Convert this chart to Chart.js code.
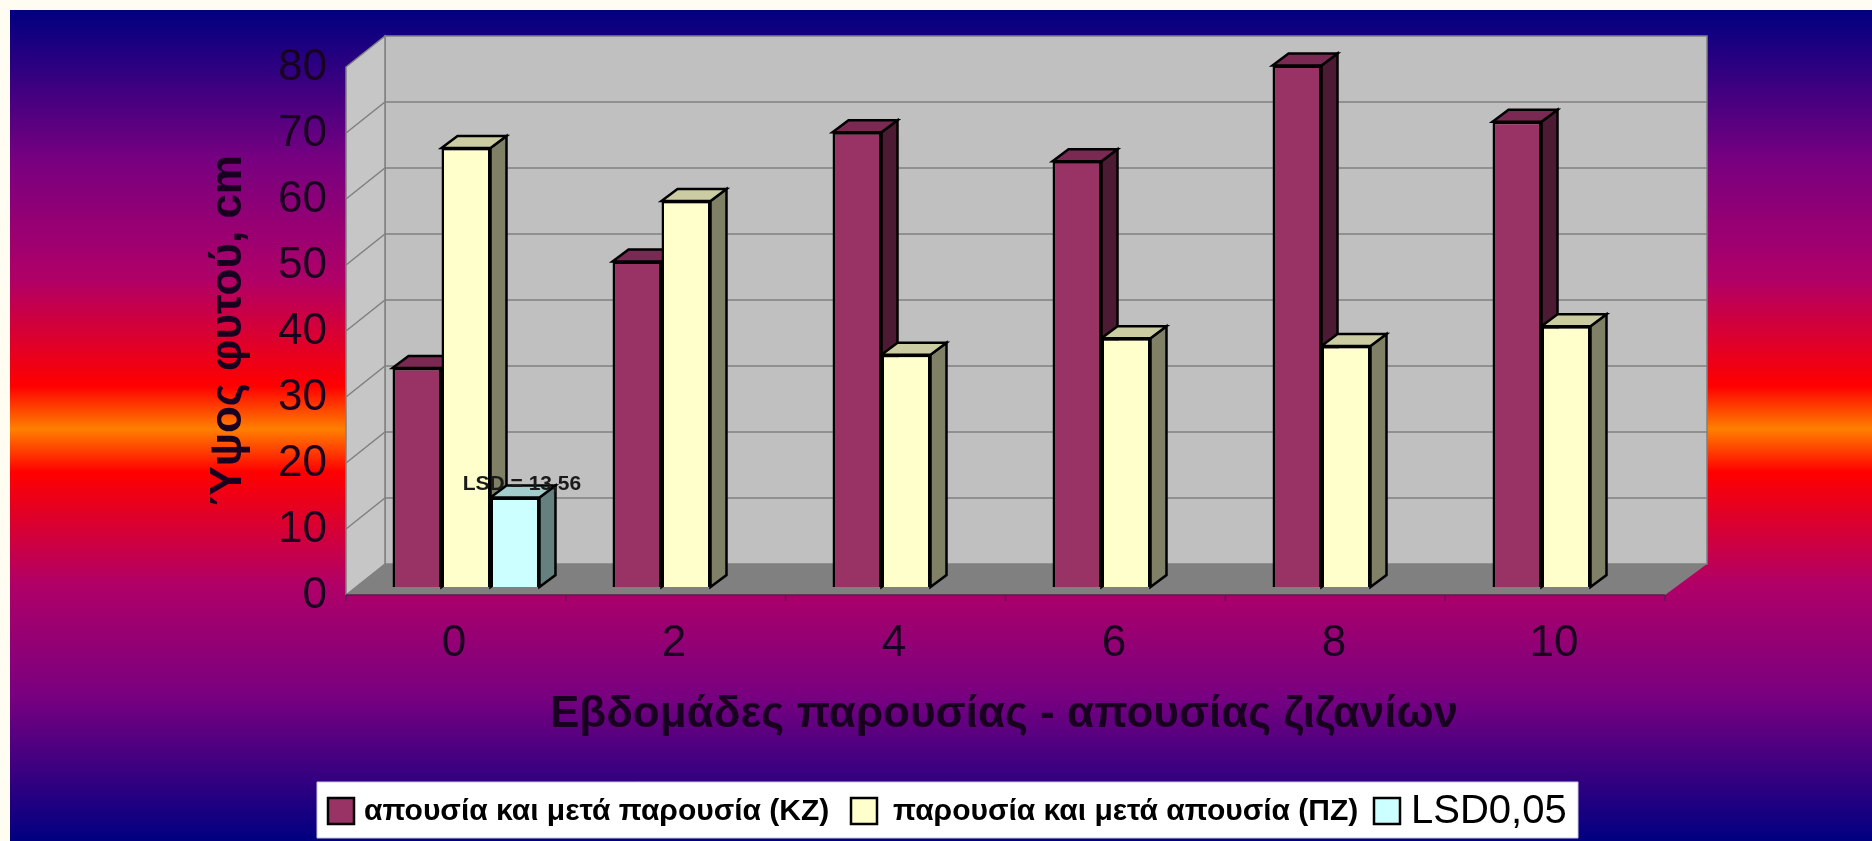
<!DOCTYPE html>
<html><head><meta charset="utf-8">
<style>html,body{margin:0;padding:0;background:#fffdf2}canvas{display:block}</style>
<script src="https://cdn.jsdelivr.net/npm/chart.js@4/dist/chart.umd.min.js"></script>
</head><body>
<canvas id="c" width="1872" height="841" style="width:1872px;height:841px"></canvas>
<script>
const categories = ['0','2','4','6','8','10'];
const kzValues = [33.2, 49.3, 68.9, 64.5, 79, 70.5];
const pzValues = [66.5, 58.5, 35.2, 37.7, 36.5, 39.5];
const lsdValues = [13.56, null, null, null, null, null];
const yTicks = [0,10,20,30,40,50,60,70,80];
const seriesNames = ['απουσία και μετά παρουσία (ΚΖ)','παρουσία και μετά απουσία (ΠΖ)','LSD0,05'];
const yTitle = 'Ύψος φυτού, cm';
const xTitle = 'Εβδομάδες παρουσίας - απουσίας ζιζανίων';
const lsdLabel = 'LSD = 13,56';
const fronts = ['#993366','#ffffcc','#ccffff'];
const tops = ['#7a2952','#cccca3','#a3cccc'];
const sides = ['#4d1a33','#808066','#668080'];
const FONT = '"Liberation Sans", Arial, sans-serif';
const INK = '#1a0020';
const DX = 16, DY = 12;

function poly(ctx, pts, fill, stroke, lw){
  ctx.beginPath();
  pts.forEach((p,i)=> i?ctx.lineTo(p[0],p[1]):ctx.moveTo(p[0],p[1]));
  ctx.closePath();
  if(fill){ctx.fillStyle=fill;ctx.fill();}
  if(stroke){ctx.strokeStyle=stroke;ctx.lineWidth=lw||1;ctx.stroke();}
}

const scene = {
  id:'scene',
  beforeDraw(chart){
    const ctx=chart.ctx, W=chart.width, H=chart.height;
    ctx.save();
    ctx.fillStyle='#fffdf2';ctx.fillRect(0,0,W,H);
    const g=ctx.createLinearGradient(0,10,0,841);
    const stop=y=>(y-10)/831;
    g.addColorStop(0,'#000080');
    g.addColorStop(stop(161),'#780080');
    g.addColorStop(stop(279),'#b00068');
    g.addColorStop(stop(386),'#ff0000');
    g.addColorStop(stop(429),'#ff8000');
    g.addColorStop(stop(472),'#ff0000');
    g.addColorStop(stop(585),'#b00068');
    g.addColorStop(stop(697),'#780080');
    g.addColorStop(1,'#000080');
    ctx.fillStyle=g;ctx.fillRect(10,10,W-10,H-10);
    ctx.restore();
  },
  beforeDatasetsDraw(chart){
    const ctx=chart.ctx, a=chart.chartArea, y=chart.scales.y;
    const xF0=a.left-10, xF1=a.right-11, xB0=a.left+29, xB1=a.right+31;
    const yF=v=>y.getPixelForValue(v)+8, yB=v=>y.getPixelForValue(v)-23;
    ctx.save();
    poly(ctx,[[xB0,yB(80)],[xB1,yB(80)],[xB1,yB(0)],[xB0,yB(0)]],'#c0c0c0','#808080',1.5);
    poly(ctx,[[xF0,yF(80)],[xB0,yB(80)],[xB0,yB(0)],[xF0,yF(0)]],'#c6c6c6','#808080',1.5);
    poly(ctx,[[xF0,yF(0)],[xF1,yF(0)],[xB1,yB(0)],[xB0,yB(0)]],'#808080');
    ctx.strokeStyle='#808080';ctx.lineWidth=1.5;
    yTicks.slice(1,-1).forEach(v=>{
      ctx.beginPath();ctx.moveTo(xF0,yF(v));ctx.lineTo(xB0,yB(v));ctx.lineTo(xB1,yB(v));ctx.stroke();
    });
    ctx.strokeStyle='#5a1a50';ctx.lineWidth=1.5;
    ctx.beginPath();ctx.moveTo(xF0,yF(0));ctx.lineTo(xF1,yF(0));ctx.stroke();
    const step=(xF1-xF0)/categories.length;
    for(let i=0;i<=categories.length;i++){
      ctx.beginPath();ctx.moveTo(xF0+i*step,yF(0));ctx.lineTo(xF0+i*step,yF(0)+6);ctx.stroke();
    }
    const metas=chart.data.datasets.map((d,i)=>chart.getDatasetMeta(i));
    categories.forEach((c,i)=>{
      metas.forEach((m,k)=>{
        const b=m.data[i];
        if(chart.data.datasets[k].data[i]==null) return;
        const l=b.x-b.width/2,r=b.x+b.width/2,t=b.y,bt=b.base;
        poly(ctx,[[r,t],[r+DX,t-DY],[r+DX,bt-DY],[r,bt]],sides[k],'#000',2.5);
        poly(ctx,[[l,t],[l+DX,t-DY],[r+DX,t-DY],[r,t]],tops[k],'#000',2.5);
      });
    });
    ctx.restore();
  },
  afterDatasetsDraw(chart){
    const ctx=chart.ctx;
    const b=chart.getDatasetMeta(2).data[0];
    ctx.save();
    ctx.font='bold 21px '+FONT;ctx.fillStyle='#1a1a1a';ctx.textAlign='center';ctx.textBaseline='middle';
    ctx.fillText(lsdLabel,b.x+7,484);
    ctx.restore();
  },
  afterDraw(chart){
    const ctx=chart.ctx;
    ctx.save();
    ctx.fillStyle=INK;ctx.textAlign='center';ctx.textBaseline='middle';
    ctx.font='bold 44px '+FONT;
    ctx.fillText(xTitle,1004,715);
    ctx.save();ctx.translate(229,331);ctx.rotate(-Math.PI/2);
    ctx.fillText(yTitle,0,0);ctx.restore();
    poly(ctx,[[317,782],[1578,782],[1578,838],[317,838]],'#fff','#c8c8e0',1);
    const items=[
      {sw:328,tx:364,font:'bold 30px '+FONT},
      {sw:851,tx:893,font:'bold 30px '+FONT},
      {sw:1374,tx:1411,font:'40px '+FONT}
    ];
    ctx.textBaseline='middle';ctx.textAlign='left';
    items.forEach((it,i)=>{
      poly(ctx,[[it.sw,798],[it.sw+26,798],[it.sw+26,824],[it.sw,824]],fronts[i],'#000',2.5);
      ctx.fillStyle='#000';ctx.font=it.font;
      ctx.fillText(seriesNames[i],it.tx,812);
    });
    ctx.restore();
  }
};

new Chart(document.getElementById('c'),{
  type:'bar',
  data:{labels:categories,datasets:[
    {label:seriesNames[0],data:kzValues,backgroundColor:fronts[0],borderColor:'#000',borderWidth:2.5},
    {label:seriesNames[1],data:pzValues,backgroundColor:fronts[1],borderColor:'#000',borderWidth:2.5},
    {label:seriesNames[2],data:lsdValues,backgroundColor:fronts[2],borderColor:'#000',borderWidth:2.5}
  ]},
  options:{
    responsive:false,animation:false,
    layout:{padding:{left:196,right:196,top:59,bottom:100}},
    plugins:{legend:{display:false},tooltip:{enabled:false}},
    datasets:{bar:{categoryPercentage:0.668,barPercentage:1}},
    scales:{
      x:{
        grid:{display:false},border:{display:false},
        ticks:{color:INK,font:{size:44,family:FONT},padding:22,labelOffset:-12,maxRotation:0},
        afterFit(s){s.height=154;}
      },
      y:{
        min:0,max:80,
        grid:{display:false},border:{display:false},
        afterBuildTicks(s){s.ticks=yTicks.map(v=>({value:v}));},
        ticks:{color:INK,font:{size:44,family:FONT},padding:21,labelOffset:9},
        afterFit(s){s.width=160;}
      }
    }
  },
  plugins:[scene]
});
</script>
</body></html>
